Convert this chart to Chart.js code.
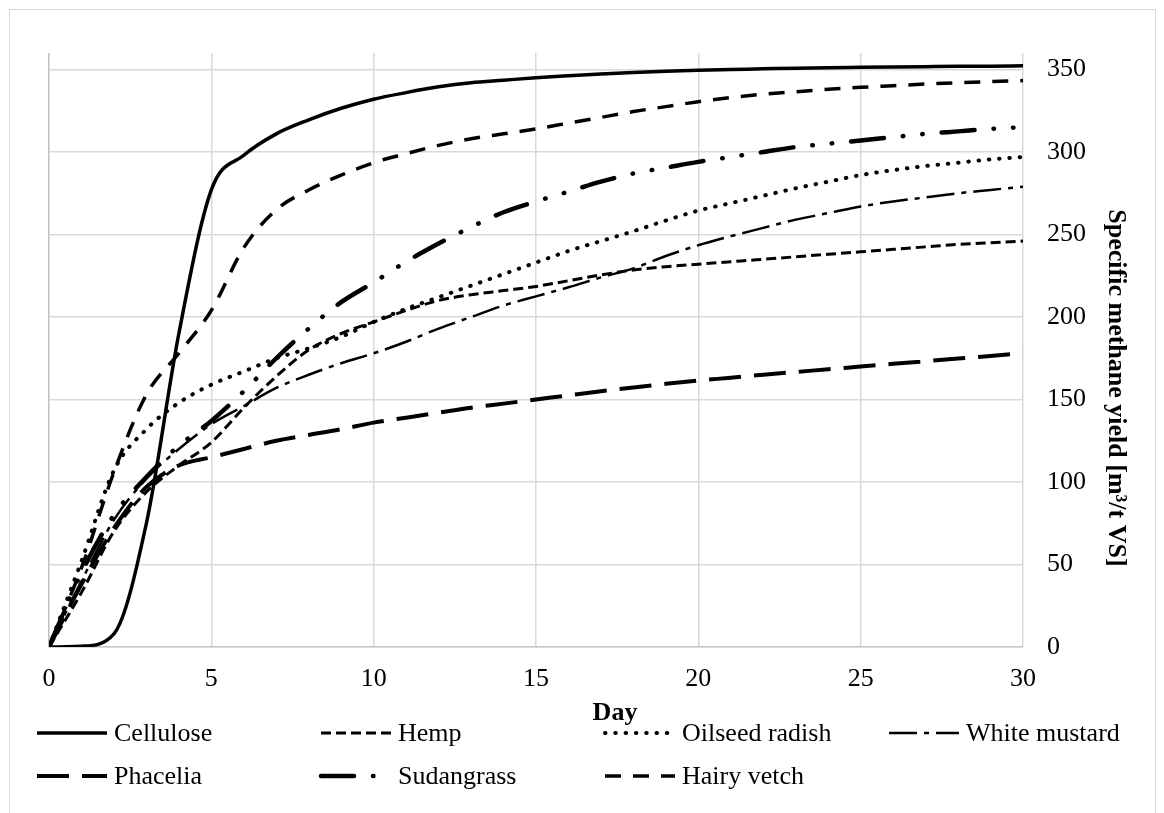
<!DOCTYPE html>
<html>
<head>
<meta charset="utf-8">
<script src="https://cdn.jsdelivr.net/npm/chart.js@4.4.1/dist/chart.umd.min.js"></script>
<style>
  html, body { margin: 0; padding: 0; background: #fff; }
  #wrap { width: 1164px; height: 813px; }
</style>
</head>
<body>
<div id="wrap"><canvas id="methaneChart" width="1164" height="813"></canvas></div>
<script>
// days of the batch test
let days = [0, 1, 2, 3, 4, 5, 6, 7, 8, 9, 10, 11, 12, 13, 14, 15, 16, 17, 18, 19, 20, 21, 22, 23, 24, 25, 26, 27, 28, 29, 30];

// cumulative specific methane yield, m3/t VS
let cellulose = [0, 0.5, 8, 75, 190, 277, 298, 311, 319.5, 326.5, 332, 336, 339.5, 342, 343.5, 345, 346.2, 347.3, 348.2, 349, 349.6, 350, 350.4, 350.8, 351.1, 351.3, 351.5, 351.7, 351.9, 352, 352.2];
let hemp = [0, 33, 70, 94, 110, 124, 145, 164, 180, 190, 197, 204, 210, 213.5, 216, 218.5, 222, 225.5, 228.5, 230.5, 232, 233.5, 235, 236.5, 238, 239.5, 241, 242.5, 244, 245, 246];
let oilseedRadish = [0, 52, 107, 132, 148, 159, 167, 175, 181, 188, 197, 205, 212, 219, 226, 233, 240, 246, 252, 258.5, 264.5, 269, 273.5, 278, 282, 286, 289, 291.5, 293.5, 295.5, 297];
let whiteMustard = [0, 40, 77, 102, 120, 135, 146, 157, 165, 172, 178, 185, 193, 200, 207, 212.5, 218, 224, 229.5, 237, 243.5, 249, 254, 259, 263, 267, 270, 272.5, 275, 277, 279];
let phacelia = [0, 38, 72, 97, 110, 115, 120, 125, 128.5, 132, 136, 139, 142, 145, 147.5, 150, 152.5, 155, 157.3, 159.5, 161.5, 163.2, 165, 166.7, 168.3, 170, 171.6, 173.2, 174.8, 176.4, 178];
let sudangrass = [0, 45, 80, 103, 122, 137, 155, 175, 193, 209, 221, 233.5, 244.5, 254.5, 263.5, 270, 276, 282, 287, 290.5, 294, 297, 300, 303, 305, 307, 309, 311, 312.5, 314, 315];
let hairyVetch = [0, 48, 106, 153, 178, 204, 242, 265, 277, 286, 293.5, 299, 304, 308, 311, 314, 317.5, 321, 324.5, 327.5, 330.5, 333, 335, 336.5, 338, 339.2, 340.2, 341.2, 342, 342.7, 343.3];

// axis ticks
let dayTicks = [0, 5, 10, 15, 20, 25, 30];
let yieldTicks = [0, 50, 100, 150, 200, 250, 300, 350];

const serif = '"Liberation Serif", "Times New Roman", serif';

function series(label, data, width, dash, cap) {
    return {
        label: label,
        data: data,
        borderColor: '#000',
        backgroundColor: '#000',
        borderWidth: width,
        borderDash: dash,
        borderCapStyle: cap || 'butt',
        pointRadius: 0,
        pointHoverRadius: 0,
        fill: false,
        cubicInterpolationMode: 'monotone'
    };
}

// grey frame round the whole chart
const frame = {
    id: 'frame',
    beforeDraw(chart) {
        const ctx = chart.ctx;
        ctx.save();
        ctx.fillStyle = '#fff';
        ctx.fillRect(0, 0, chart.width, chart.height);
        ctx.strokeStyle = '#d9d9d9';
        ctx.lineWidth = 1;
        ctx.strokeRect(9.5, 9.5, 1146, 900);
        ctx.restore();
    }
};

// axis titles
const axisTitles = {
    id: 'axisTitles',
    afterDraw(chart) {
        const ctx = chart.ctx;
        ctx.save();
        ctx.fillStyle = '#000';
        ctx.font = 'bold 26px ' + serif;
        ctx.textAlign = 'center';
        ctx.textBaseline = 'middle';
        ctx.fillText('Day', 615, 713);
        ctx.translate(1116, 388);
        ctx.rotate(Math.PI / 2);
        ctx.fillText('Specific methane yield [m\u00b3/t VS]', 0, 0);
        ctx.restore();
    }
};

// legend in four columns, two rows
const legendGrid = {
    id: 'legendGrid',
    afterDraw(chart) {
        const ctx = chart.ctx;
        chart.data.datasets.forEach((ds, i) => {
            const x = 37 + (i % 4) * 284;
            const y = i < 4 ? 733 : 776;
            ctx.save();
            ctx.strokeStyle = ds.borderColor;
            ctx.lineWidth = ds.borderWidth;
            ctx.lineCap = ds.borderCapStyle;
            ctx.setLineDash(ds.borderDash);
            ctx.beginPath();
            ctx.moveTo(x, y);
            ctx.lineTo(x + 70, y);
            ctx.stroke();
            ctx.setLineDash([]);
            ctx.fillStyle = '#000';
            ctx.font = '26px ' + serif;
            ctx.textBaseline = 'middle';
            ctx.fillText(ds.label, x + 77, y + 1);
            ctx.restore();
        });
    }
};

let methaneChart = new Chart(document.getElementById('methaneChart'), {
    type: 'line',
    data: {
        labels: days,
        datasets: [
            series('Cellulose', cellulose, 3.5, []),
            series('Hemp', hemp, 3, [10, 5]),
            series('Oilseed radish', oilseedRadish, 4, [0.5, 9.8], 'round'),
            series('White mustard', whiteMustard, 2.5, [28, 7, 5, 7]),
            series('Phacelia', phacelia, 4, [32, 13]),
            series('Sudangrass', sudangrass, 4.5, [33, 19, 0.5, 19, 0.5, 19], 'round'),
            series('Hairy vetch', hairyVetch, 3.5, [16, 12])
        ]
    },
    options: {
        responsive: false,
        animation: false,
        layout: { padding: { left: 49, top: 53, right: 0, bottom: 0 } },
        plugins: {
            legend: { display: false },
            tooltip: { enabled: false }
        },
        scales: {
            x: {
                type: 'linear',
                min: 0,
                max: 30,
                afterBuildTicks: (scale) => { scale.ticks = dayTicks.map(v => ({ value: v })); },
                afterFit: (scale) => { scale.height = 166; },
                grid: {
                    color: (c) => c.tick && c.tick.value === 0 ? '#bfbfbf' : '#d9d9d9',
                    lineWidth: 1.5,
                    drawTicks: false
                },
                border: { display: true, color: '#c8c8c8', width: 1.5 },
                ticks: {
                    padding: 17,
                    color: '#000',
                    font: { family: serif, size: 26 },
                    maxRotation: 0
                }
            },
            y: {
                position: 'right',
                min: 0,
                max: 360,
                afterBuildTicks: (scale) => { scale.ticks = yieldTicks.map(v => ({ value: v })); },
                afterFit: (scale) => { scale.width = 141; },
                grid: { color: '#d9d9d9', lineWidth: 1.5, drawTicks: false },
                border: { display: false },
                ticks: {
                    padding: 24,
                    color: '#000',
                    font: { family: serif, size: 26 }
                }
            }
        }
    },
    plugins: [frame, axisTitles, legendGrid]
});
</script>
</body>
</html>
